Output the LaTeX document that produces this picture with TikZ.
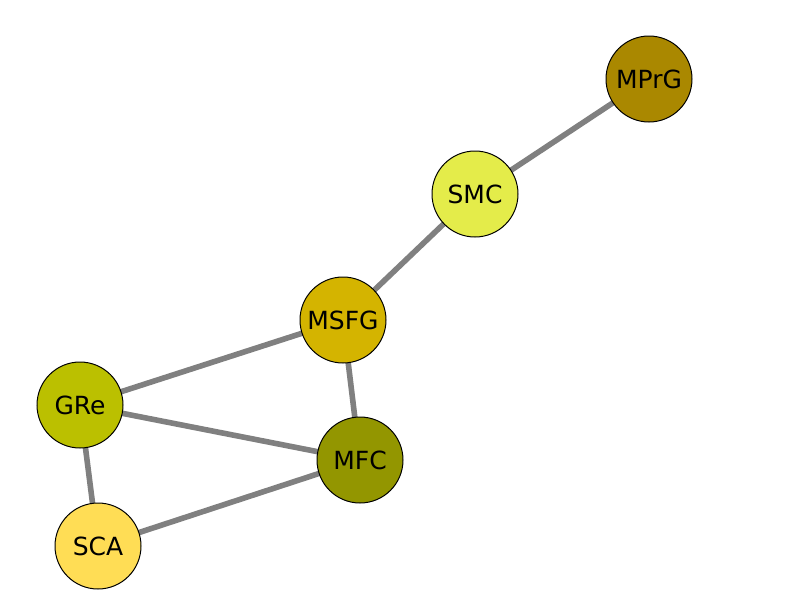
\documentclass[tikz,border=0pt]{standalone}
\usepackage{fontspec}
\setmainfont{DejaVu Sans}
\usetikzlibrary{backgrounds}
\definecolor{cMPrG}{HTML}{AA8800}
\definecolor{cSMC}{HTML}{E4EC4A}
\definecolor{cMSFG}{HTML}{D4B400}
\definecolor{cGRe}{HTML}{BBC000}
\definecolor{cMFC}{HTML}{939600}
\definecolor{cSCA}{HTML}{FFDD55}
\definecolor{edgegray}{HTML}{808080}
\tikzset{
  vtx/.style={circle, draw=black, line width=1pt, minimum size=86pt, inner sep=0pt,
    font=\fontsize{25}{30}\selectfont},
  link/.style={draw=edgegray, line width=5.6pt}
}
\begin{document}
\begin{tikzpicture}[x=1pt,y=-1pt]
\useasboundingbox (0,0) rectangle (800,600);
\node[vtx, fill=cMPrG] (MPrG) at (649,79) {MPrG};
\node[vtx, fill=cSMC] (SMC) at (475,194) {SMC};
\node[vtx, fill=cMSFG] (MSFG) at (343,320) {MSFG};
\node[vtx, fill=cGRe] (GRe) at (80,405) {GRe};
\node[vtx, fill=cMFC] (MFC) at (360,460) {MFC};
\node[vtx, fill=cSCA] (SCA) at (98,546) {SCA};
\begin{pgfonlayer}{background}
\draw[link] (MPrG.center) -- (SMC.center);
\draw[link] (SMC.center) -- (MSFG.center);
\draw[link] (MSFG.center) -- (GRe.center);
\draw[link] (MSFG.center) -- (MFC.center);
\draw[link] (GRe.center) -- (MFC.center);
\draw[link] (GRe.center) -- (SCA.center);
\draw[link] (SCA.center) -- (MFC.center);
\end{pgfonlayer}
\end{tikzpicture}
\end{document}
